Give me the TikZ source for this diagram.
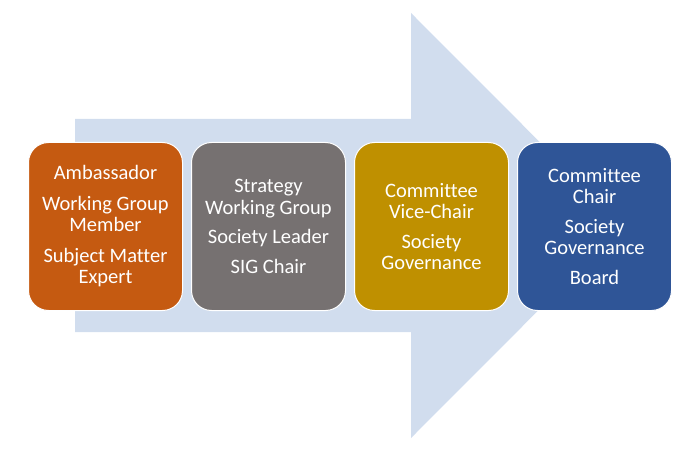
\documentclass[tikz,border=0pt]{standalone}
\usepackage{fontspec}
\setmainfont{Carlito}[Ligatures={NoCommon,NoRequired,NoContextual}]
\usetikzlibrary{positioning}
\definecolor{stOrange}{HTML}{C55A11}
\definecolor{stGray}{HTML}{767171}
\definecolor{stGold}{HTML}{BF9000}
\definecolor{stBlue}{HTML}{2F5597}
\definecolor{stArrow}{HTML}{D1DDEE}
\begin{document}
\begin{tikzpicture}[
  x=1pt, y=-1pt,
  font=\fontsize{20.5}{21.5}\selectfont,
  stage/.style={rounded corners=20pt,draw=white,line width=1pt,align=center,text=white,
                minimum width=154pt,minimum height=168pt,inner sep=4pt},
  amb/.style={stage,fill=stOrange},
  lead/.style={stage,fill=stGray},
  vice/.style={stage,fill=stGold},
  chair/.style={stage,fill=stBlue},
  node distance=8pt,
]
\useasboundingbox (0,0) rectangle (700,454);
% big background arrow
\fill[stArrow] (75,119) -- (411,119) -- (411,13) -- (623,225.5) -- (411,438)
  -- (411,332) -- (75,332) -- cycle;
% stages
\node[amb]   (ambassador) at (105.5,226.5) {Ambassador\\[9pt]Working Group\\Member\\[9pt]Subject Matter\\Expert};
\node[lead]  (leader)   [right=of ambassador] {Strategy\\Working Group\\[8pt]Society Leader\\[8pt]SIG Chair};
\node[vice]  (vicechair) [right=of leader] {Committee\\Vice-Chair\\[8pt]Society\\Governance};
\node[chair] (board)    [right=of vicechair] {Committee\\Chair\\[8pt]Society\\Governance\\[8pt]Board};
\end{tikzpicture}
\end{document}
